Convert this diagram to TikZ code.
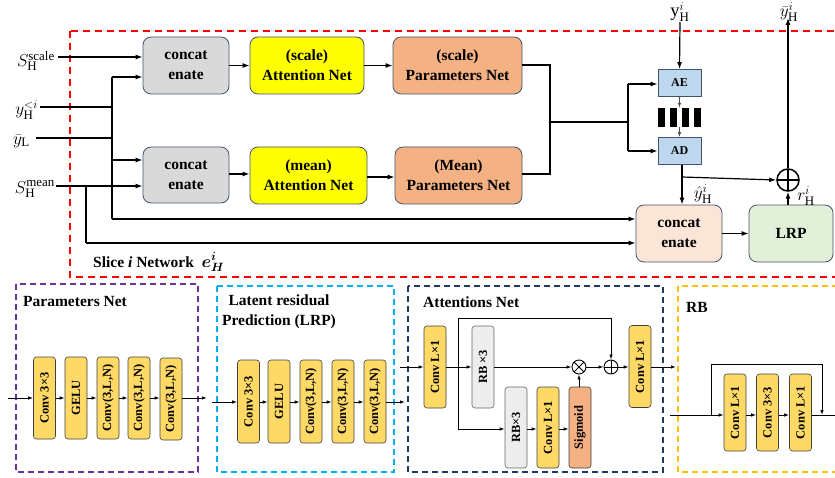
\documentclass[tikz,border=0pt]{standalone}
\usepackage{fontspec}
\setmainfont{Liberation Serif}
\usepackage{bm}
\usetikzlibrary{arrows.meta}
\definecolor{boxb}{HTML}{44546A}
\definecolor{catgray}{HTML}{D9D9D9}
\definecolor{attyel}{HTML}{FFFF00}
\definecolor{parfill}{HTML}{F4B183}
\definecolor{aefill}{HTML}{BDD7EE}
\definecolor{cat3fill}{HTML}{FBE5D6}
\definecolor{lrpfill}{HTML}{E2F0D9}
\definecolor{gold}{HTML}{FFD966}
\definecolor{rbgray}{HTML}{EDEDED}
\definecolor{purp}{HTML}{7030A0}
\definecolor{cyanb}{HTML}{00B0F0}
\definecolor{navyb}{HTML}{203864}
\definecolor{orangeb}{HTML}{FFC000}
\definecolor{redb}{HTML}{FF0000}
\tikzset{
  topbox/.style={draw=boxb, line width=0.8pt, rounded corners=8pt, align=center,
    font=\fontsize{15.5}{20}\selectfont\bfseries, inner sep=0pt},
  arr/.style={line width=1.2pt, -{Latex[length=7pt,width=5pt]}},
  ln/.style={line width=1.2pt},
  sarr/.style={line width=0.9pt, -{Latex[length=5pt,width=3.5pt]}},
  sln/.style={line width=0.9pt},
  mlab/.style={font=\fontsize{18.5}{20}\selectfont, inner sep=0pt},
  cbox/.style={draw=black!75, line width=0.6pt, fill=gold, rounded corners=3pt,
    minimum width=22, minimum height=82, inner sep=0pt,
    font=\fontsize{12.5}{13}\selectfont\bfseries},
  ttl/.style={font=\fontsize{15.5}{20}\selectfont\bfseries, inner sep=0pt},
  panel/.style={line width=1.3pt, dash pattern=on 6pt off 4pt},
  oplus/.style={circle, draw, inner sep=0pt, minimum size=#1,
    path picture={\draw (path picture bounding box.north) -- (path picture bounding box.south)
      (path picture bounding box.west) -- (path picture bounding box.east);}},
  otimes/.style={circle, draw, inner sep=0pt, minimum size=#1,
    path picture={\draw (path picture bounding box.north west) -- (path picture bounding box.south east)
      (path picture bounding box.north east) -- (path picture bounding box.south west);}}
}
\begin{document}
\begin{tikzpicture}[x=1pt,y=-1pt]
\useasboundingbox (0,0) rectangle (835,478);

% ===== top red region =====
\draw[redb, line width=1.5pt, dash pattern=on 7pt off 5pt] (70,31) rectangle (842,277);

\node[topbox, fill=catgray, minimum width=86, minimum height=57] (cat1) at (186,65.5) {concat\\enate};
\node[topbox, fill=attyel, minimum width=114, minimum height=57] (att1) at (307,65.5) {(scale)\\Attention Net};
\node[topbox, fill=parfill, minimum width=129, minimum height=57] (par1) at (457.5,65.5) {(scale)\\Parameters Net};
\node[topbox, fill=catgray, minimum width=86, minimum height=56] (cat2) at (186,175) {concat\\enate};
\node[topbox, fill=attyel, minimum width=117, minimum height=57] (att2) at (308.5,175.5) {(mean)\\Attention Net};
\node[topbox, fill=parfill, minimum width=127, minimum height=57] (par2) at (458.5,175.5) {(Mean)\\Parameters Net};
\node[topbox, fill=cat3fill, minimum width=86, minimum height=57] (cat3) at (679,233.5) {concat\\enate};
\node[topbox, fill=lrpfill, minimum width=84, minimum height=57] (lrp) at (791,233.5) {LRP};

\node[draw=boxb, line width=0.8pt, fill=aefill, minimum width=43, minimum height=27, inner sep=0pt,
  font=\fontsize{12}{12}\selectfont\bfseries] (ae) at (679.5,83) {AE};
\node[draw=boxb, line width=0.8pt, fill=aefill, minimum width=43, minimum height=27, inner sep=0pt,
  font=\fontsize{12}{12}\selectfont\bfseries] (ad) at (679.5,151) {AD};
\node[minimum width=43, minimum height=19, inner sep=0pt] (bar) at (679.5,117.5) {};
\foreach \i in {0,1,2,3} \fill ([xshift=\i*12pt]bar.north west) rectangle ++(7,19);

\node[oplus=22, line width=1.5pt] (plus) at (788,180) {};

% labels
\node[mlab, anchor=east] (sscale) at (55,61) {$S_{\mathrm{H}}^{\mathrm{scale}}$};
\node[mlab, anchor=east] (ylt) at (38,110) {$y_{\mathrm{H}}^{<i}$};
\node[mlab, anchor=east] (ybl) at (30,141) {$\bar{y}_{\mathrm{L}}$};
\node[mlab, anchor=east] (smean) at (55,189) {$S_{\mathrm{H}}^{\mathrm{mean}}$};
\node[mlab] (yhi) at (680,12) {$\mathrm{y}_{\mathrm{H}}^{i}$};
\node[mlab] (ybhi) at (789,12) {$\bar{y}_{\mathrm{H}}^{i}$};
\node[mlab] (yhat) at (703,194) {$\hat{y}_{\mathrm{H}}^{i}$};
\node[mlab] (rhi) at (806,196) {$r_{\mathrm{H}}^{i}$};
\node[ttl, anchor=west] (slice) at (93,262) {Slice \textit{i} Network \ \fontsize{17}{20}\selectfont$\bm{e_H^i}$};

% coordinates
\coordinate (s1) at (58,57);
\coordinate (s2) at (40,107);
\coordinate (s3) at (36,138);
\coordinate (s4) at (56,186);
\coordinate (v1) at (112,77);
\coordinate (v2) at (112,219);
\coordinate (jv) at (112,107);
\coordinate (jl) at (112,138);
\coordinate (m1) at (86,186);
\coordinate (m2) at (86,243);
\coordinate (j1) at (550,65);
\coordinate (j2) at (550,174);
\coordinate (j3) at (550,122);
\coordinate (j4) at (628,122);
\coordinate (b1) at (628,84);
\coordinate (b2) at (628,151);
\coordinate (yin) at (680,22);
\coordinate (yout) at (788,18);
\coordinate (adb) at (682,177);

% connectors top
\draw[arr] (s1) -- (s1 -| cat1.west);
\draw[ln] (s2) -- (jv);
\draw[ln] (s3) -- (jl);
\draw[ln] (v1) -- (v2);
\draw[arr] (v1) -- (v1 -| cat1.west);
\draw[arr] (112,160) -- (cat2.west |- 0,160);
\draw[arr] (v2) -- (v2 -| cat3.west);
\draw[arr] (s4) -- (s4 -| cat2.west);
\draw[ln] (m1) -- (m2);
\draw[arr] (m2) -- (m2 -| cat3.west);
\draw[arr] (cat1.east) -- (att1.west);
\draw[arr] (att1.east) -- (par1.west);
\draw[arr] (cat2.east |- 0,174) -- (att2.west |- 0,174);
\draw[arr] (att2.east |- 0,177) -- (par2.west |- 0,177);
\draw[ln] (par1.east |- j1) -- (j1) -- (j2) -- (par2.east |- j2);
\draw[ln] (j3) -- (j4);
\draw[ln] (b1) -- (b2);
\draw[arr] (b1) -- (ae.west |- b1);
\draw[arr] (b2) -- (ad.west |- b2);
\draw[arr] (yin) -- (ae.north);
\draw[sarr, black!70] (ae.south) -- (bar.north);
\draw[sarr, black!70] (bar.south) -- (ad.north);
\draw[arr] (adb |- ad.south) -- (adb |- cat3.north);
\draw[arr] (adb) -- (plus.west);
\draw[arr] (cat3.east) -- (lrp.west);
\draw[arr] (plus.south |- lrp.north) -- (plus.south);
\draw[arr] (plus.north) -- (yout);

% ===== Parameters Net panel =====
\draw[purp, panel] (16,284) rectangle (198,472);
\node[ttl, anchor=west] (pt) at (23,302) {Parameters Net};
\node[cbox] (p1) at (44.5,398) {\rotatebox{90}{Conv 3×3}};
\node[cbox] (p2) at (76,398) {\rotatebox{90}{GELU}};
\node[cbox] (p3) at (108,398) {\rotatebox{90}{Conv(3,L,N)}};
\node[cbox] (p4) at (139,398) {\rotatebox{90}{Conv(3,L,N)}};
\node[cbox] (p5) at (171,399) {\rotatebox{90}{Conv(3,L,N)}};
\coordinate (pin) at (8,398);
\coordinate (pout) at (207,398);
\draw[sarr] (pin) -- (p1.west);
\draw[sarr] (p1.east) -- (p2.west);
\draw[sarr] (p2.east) -- (p3.west);
\draw[sarr] (p3.east) -- (p4.west);
\draw[sarr] (p4.east) -- (p5.west |- 0,398);
\draw[sarr] (p5.east |- 0,398) -- (pout);

% ===== LRP panel =====
\draw[cyanb, panel] (217,286) rectangle (394,472);
\node[ttl, align=center] (lt) at (279,312) {Latent residual\\Prediction (LRP)};
\node[cbox, minimum height=83] (l1) at (248.5,401.5) {\rotatebox{90}{Conv 3×3}};
\node[cbox, minimum height=83] (l2) at (279,401.5) {\rotatebox{90}{GELU}};
\node[cbox, minimum height=83] (l3) at (311,401.5) {\rotatebox{90}{Conv(3,L,N)}};
\node[cbox, minimum height=83] (l4) at (343,401.5) {\rotatebox{90}{Conv(3,L,N)}};
\node[cbox, minimum height=83] (l5) at (375,401.5) {\rotatebox{90}{Conv(3,L,N)}};
\coordinate (lin) at (212,402);
\coordinate (lout) at (405,402);
\draw[sarr] (lin) -- (lin -| l1.west);
\draw[sarr] (l1.east |- lin) -- (l2.west |- lin);
\draw[sarr] (l2.east |- lin) -- (l3.west |- lin);
\draw[sarr] (l3.east |- lin) -- (l4.west |- lin);
\draw[sarr] (l4.east |- lin) -- (l5.west |- lin);
\draw[sarr] (l5.east |- lin) -- (lout);

% ===== Attentions Net panel =====
\draw[navyb, panel] (408,286) rectangle (663,472);
\node[ttl, anchor=west] (at) at (423,302) {Attentions Net};
\node[cbox] (a1) at (435,367) {\rotatebox{90}{Conv L×1}};
\node[cbox, fill=rbgray, draw=black!60] (rb1) at (483,367) {\rotatebox{90}{RB ×3}};
\node[cbox, fill=rbgray, draw=black!60, minimum height=81] (rb2) at (516,427.5) {\rotatebox{90}{RB×3}};
\node[cbox, minimum height=81] (c2) at (548,427.5) {\rotatebox{90}{Conv L×1}};
\node[cbox, fill=parfill, minimum height=81] (sig) at (580,427.5) {\rotatebox{90}{Sigmoid}};
\node[cbox] (a2) at (640,366.5) {\rotatebox{90}{Conv L×1}};
\node[otimes=14, line width=0.9pt] (ot) at (579,367) {};
\node[oplus=14, line width=0.9pt] (op) at (611,367) {};
\coordinate (ain) at (400,367);
\coordinate (aout) at (676,367);
\coordinate (ab) at (458,367);
\coordinate (abu) at (458,318);
\coordinate (abd) at (458,429);
\draw[sarr] (ain) -- (a1.west);
\draw[sarr] (a1.east) -- (rb1.west);
\draw[sln] (ab) -- (abu) -- (abu -| op.north);
\draw[sarr] (abu -| op.north) -- (op.north);
\draw[sln] (ab) -- (abd);
\draw[sarr] (abd) -- (rb2.west |- abd);
\draw[sarr] (rb2.east |- abd) -- (c2.west |- abd);
\draw[sarr] (c2.east |- abd) -- (sig.west |- abd);
\draw[sarr] (ot.south |- sig.north) -- (ot.south);
\draw[sarr] (rb1.east) -- (ot.west);
\draw[sarr] (ot.east) -- (op.west);
\draw[sarr] (op.east) -- (a2.west |- op.east);
\draw[sarr] (a2.east |- aout) -- (aout);

% ===== RB panel =====
\draw[orangeb, panel] (678,286) rectangle (842,472);
\node[ttl, anchor=west] (rt) at (686,307) {RB};
\node[cbox, minimum height=77] (r1) at (735,412.5) {\rotatebox{90}{Conv L×1}};
\node[cbox, minimum height=77] (r2) at (767.5,412.5) {\rotatebox{90}{Conv 3×3}};
\node[cbox, minimum height=77] (r3) at (800.5,412.5) {\rotatebox{90}{Conv L×1}};
\coordinate (rin) at (670,415);
\coordinate (rb) at (711,415);
\coordinate (rbu) at (711,364);
\coordinate (rbr) at (822,364);
\coordinate (rbe) at (822,415);
\coordinate (rout) at (836,415);
\draw[sarr] (rin) -- (rin -| r1.west);
\draw[sarr] (r1.east |- rin) -- (r2.west |- rin);
\draw[sarr] (r2.east |- rin) -- (r3.west |- rin);
\draw[sln] (r3.east |- rin) -- (rout);
\draw[sln] (rb) -- (rbu) -- (rbr);
\draw[sarr] (rbr) -- (rbe);
\end{tikzpicture}
\end{document}
